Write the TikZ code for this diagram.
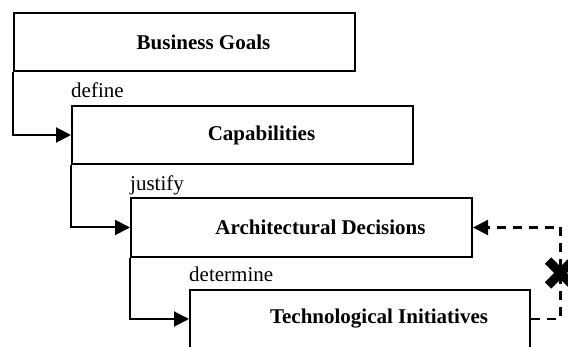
\documentclass[tikz,border=0pt]{standalone}
\usepackage{fontspec}
\setmainfont{Liberation Serif}
\usetikzlibrary{arrows.meta}
\tikzset{
  boxst/.style={draw, line width=2pt, minimum width=341pt, minimum height=58pt, inner sep=0pt},
  titlest/.style={font=\fontsize{21}{25}\selectfont\bfseries, inner sep=0pt},
  lblst/.style={font=\fontsize{21}{25}\selectfont, anchor=base west, inner sep=0pt},
  arr/.style={line width=2pt, -{Triangle[length=15pt,width=15pt]}},
  darr/.style={line width=2.2pt, dash pattern=on 9pt off 7pt, -{Triangle[length=15pt,width=15pt]}},
  crossst/.style={line width=9pt, line cap=butt}
}
\begin{document}
\begin{tikzpicture}[x=1pt,y=-1pt]
\useasboundingbox (0,0) rectangle (568,347);
\clip (0,0) rectangle (568,347);
\node[boxst] (b1) at (184.5,42) {};
\node[boxst] (b2) at (242.5,135) {};
\node[boxst, minimum height=59pt] (b3) at (301.5,227.5) {};
\node[boxst, minimum width=340pt] (b4) at (360,319) {};
\node[titlest] (t1) at ([xshift=19pt]b1.center) {Business Goals};
\node[titlest] (t2) at ([xshift=19pt]b2.center) {Capabilities};
\node[titlest] (t3) at ([xshift=19pt]b3.center) {Architectural Decisions};
\node[titlest] (t4) at ([xshift=19pt]b4.center) {Technological Initiatives};
\node[lblst] (l1) at ([yshift=7pt]b2.north west) {define};
\node[lblst] (l2) at ([yshift=6pt]b3.north west) {justify};
\node[lblst] (l3) at ([yshift=7pt]b4.north west) {determine};
\draw[arr] (b1.south west) |- (b2.west);
\draw[arr] (b2.south west) |- (b3.west);
\draw[arr] (b3.south west) |- (b4.west);
\coordinate (rx) at (560.5,273);
\draw[darr] (b4.east) -- (b4.east -| rx) -- (b3.east -| rx) -- (b3.east);
\draw[crossst] ([shift={(-12.5,-12.5)}]rx) -- ([shift={(12.5,12.5)}]rx);
\draw[crossst] ([shift={(-12.5,12.5)}]rx) -- ([shift={(12.5,-12.5)}]rx);
\end{tikzpicture}
\end{document}
